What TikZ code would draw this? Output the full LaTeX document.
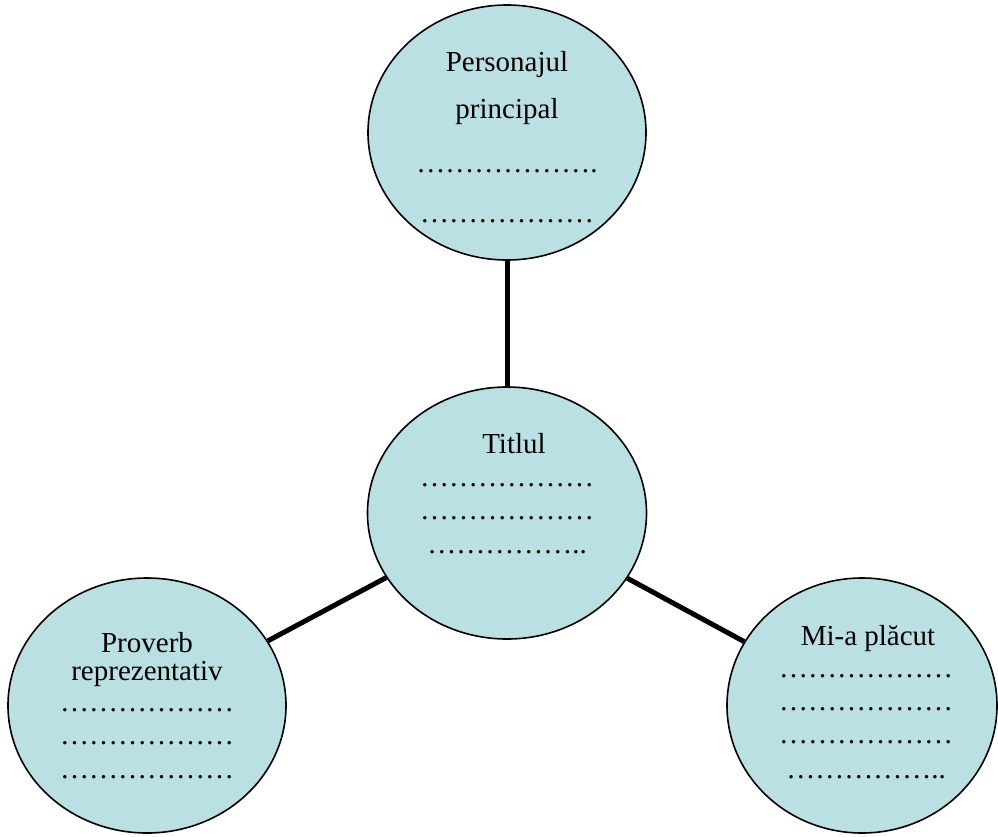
\documentclass[tikz,border=0pt]{standalone}
\usepackage{fontspec}
\setmainfont{Liberation Serif}
\usetikzlibrary{shapes.geometric,backgrounds}
\definecolor{bubble}{HTML}{BBE0E3}
\begin{document}
\begin{tikzpicture}[x=1pt,y=-1pt,
  bubble/.style={ellipse,draw=black,line width=1.6pt,fill=bubble,inner sep=0pt},
  link/.style={line width=5pt,black},
  txt/.style={anchor=base,inner sep=0pt,font=\fontsize{29}{34}\selectfont}]
\useasboundingbox (0,0) rectangle (998,836);
% bubbles
\node[bubble,minimum width=278pt,minimum height=255pt] (top) at (507,132.5) {};
\node[bubble,minimum width=279pt,minimum height=252pt] (mid) at (507,513) {};
\node[bubble,minimum width=278pt,minimum height=255pt] (left) at (147,705.5) {};
\node[bubble,minimum width=270pt,minimum height=255pt] (right) at (862,705.5) {};
% connectors
\begin{pgfonlayer}{background}
\draw[link] (top.south) -- (mid.north);
\draw[link] (mid) -- (left);
\draw[link] (mid) -- (right);
\end{pgfonlayer}
% top texts
\node[txt] (t1) at (507,71) {Personajul};
\node[txt] (t2) at (507,118) {principal};
\node[txt] (t3) at (507,172) {……………….};
\node[txt] (t4) at (507,222) {………………};
% centre texts
\node[txt] (m1) at (514,453) {Titlul};
\node[txt] (m2) at (507,486) {………………};
\node[txt] (m3) at (507,519) {………………};
\node[txt] (m4) at (507,553) {……………..};
% left texts
\node[txt] (l1) at (147,652) {Proverb};
\node[txt] (l2) at (147,680) {reprezentativ};
\node[txt] (l3) at (147,711) {………………};
\node[txt] (l4) at (147,744) {………………};
\node[txt] (l5) at (147,778) {………………};
% right texts
\node[txt] (r1) at (868,645) {Mi-a plăcut};
\node[txt] (r2) at (866,677) {………………};
\node[txt] (r3) at (866,710) {………………};
\node[txt] (r4) at (866,743) {………………};
\node[txt] (r5) at (866,778) {……………..};
\end{tikzpicture}
\end{document}
